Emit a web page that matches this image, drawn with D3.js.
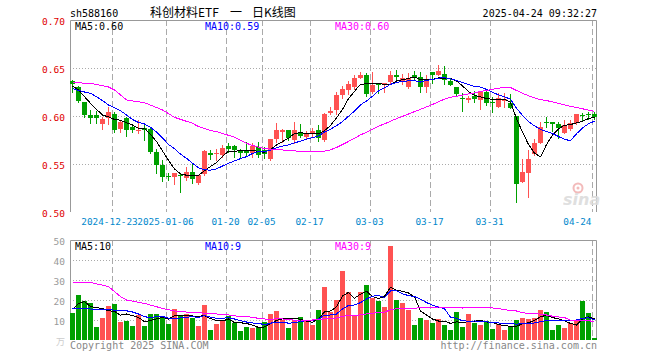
<!DOCTYPE html>
<html>
<head>
<meta charset="utf-8">
<script src="https://cdn.jsdelivr.net/npm/d3@7"></script>
<style>
  body { margin: 0; background: #fff; }
  svg { display: block; }
</style>
</head>
<body>
<div id="chart"></div>
<script>
// trading days shown in the chart
var dates = [
  "2024-12-12","2024-12-13","2024-12-16","2024-12-17","2024-12-18","2024-12-19","2024-12-20","2024-12-23","2024-12-24","2024-12-25",
  "2024-12-26","2024-12-27","2024-12-30","2024-12-31","2025-01-02","2025-01-03","2025-01-06","2025-01-07","2025-01-08","2025-01-09",
  "2025-01-10","2025-01-13","2025-01-14","2025-01-15","2025-01-16","2025-01-17","2025-01-20","2025-01-21","2025-01-22","2025-01-23",
  "2025-01-24","2025-01-27","2025-02-05","2025-02-06","2025-02-07","2025-02-10","2025-02-11","2025-02-12","2025-02-13","2025-02-14",
  "2025-02-17","2025-02-18","2025-02-19","2025-02-20","2025-02-21","2025-02-24","2025-02-25","2025-02-26","2025-02-27","2025-02-28",
  "2025-03-03","2025-03-04","2025-03-05","2025-03-06","2025-03-07","2025-03-10","2025-03-11","2025-03-12","2025-03-13","2025-03-14",
  "2025-03-17","2025-03-18","2025-03-19","2025-03-20","2025-03-21","2025-03-24","2025-03-25","2025-03-26","2025-03-27","2025-03-28",
  "2025-03-31","2025-04-01","2025-04-02","2025-04-03","2025-04-07","2025-04-08","2025-04-09","2025-04-10","2025-04-11","2025-04-14",
  "2025-04-15","2025-04-16","2025-04-17","2025-04-18","2025-04-21","2025-04-22","2025-04-23","2025-04-24"
];

var open = [
  .6365,.6305,.6149,.6010,.6010,.5914,.5976,.6021,.5865,.5983,
  .5882,.5851,.5875,.5865,.5628,.5490,.5379,.5368,.5389,.5351,
  .5413,.5306,.5392,.5618,.5604,.5594,.5688,.5688,.5646,.5639,
  .5611,.5674,.5646,.5552,.5760,.5837,.5854,.5750,.5837,.5785,
  .5813,.5854,.5750,.6028,.6062,.6219,.6271,.6305,.6399,.6427,
  .6253,.6340,.6330,.6351,.6427,.6368,.6305,.6427,.6403,.6305,
  .6455,.6427,.6437,.6365,.6305,.6184,.6167,.6208,.6167,.6253,
  .6149,.6097,.6160,.6139,.6000,.5316,.5403,.5604,.5715,.5941,
  .5934,.5917,.5820,.5861,.5924,.6010,.6021,.6021
];
var high = [
  .6370,.6310,.6150,.6062,.6056,.5993,.6090,.6045,.5958,.5993,
  .5906,.5958,.5920,.5872,.5656,.5542,.5410,.5403,.5403,.5465,
  .5507,.5389,.5646,.5646,.5656,.5698,.5722,.5698,.5653,.5733,
  .5715,.5733,.5674,.5760,.5931,.5865,.5854,.5941,.5920,.5844,
  .5872,.5906,.6028,.6097,.6253,.6313,.6368,.6427,.6462,.6444,
  .6462,.6340,.6345,.6469,.6479,.6437,.6451,.6472,.6462,.6427,
  .6455,.6531,.6521,.6392,.6305,.6236,.6208,.6264,.6253,.6278,
  .6201,.6243,.6236,.6229,.6000,.5549,.5646,.5757,.5941,.5993,
  .5934,.5941,.5958,.5958,.6021,.6035,.6045,.6045
];
var low = [
  .6253,.6150,.5986,.5930,.5927,.5865,.5917,.5830,.5837,.5792,
  .5837,.5826,.5750,.5611,.5410,.5326,.5333,.5292,.5212,.5333,
  .5306,.5292,.5385,.5549,.5542,.5569,.5628,.5576,.5559,.5597,
  .5576,.5576,.5563,.5542,.5733,.5733,.5750,.5722,.5778,.5760,
  .5795,.5743,.5743,.6021,.6021,.6184,.6233,.6278,.6399,.6208,
  .6236,.6236,.6253,.6333,.6375,.6333,.6288,.6375,.6253,.6253,
  .6347,.6427,.6333,.6323,.6208,.6055,.6149,.6149,.6069,.6115,
  .6045,.6090,.6097,.6080,.5108,.5316,.5153,.5597,.5715,.5889,
  .5847,.5771,.5820,.5854,.5917,.5951,.5965,.5965
];
var close = [
  .6333,.6159,.6010,.5976,.5983,.5969,.6038,.5854,.5934,.5854,
  .5854,.5854,.5851,.5628,.5490,.5361,.5361,.5403,.5375,.5413,
  .5340,.5385,.5639,.5597,.5611,.5663,.5653,.5646,.5611,.5611,
  .5688,.5594,.5601,.5760,.5854,.5854,.5774,.5854,.5792,.5813,
  .5847,.5767,.6017,.6055,.6219,.6281,.6333,.6399,.6427,.6229,
  .6323,.6323,.6340,.6427,.6410,.6392,.6392,.6403,.6305,.6382,
  .6427,.6469,.6375,.6323,.6226,.6174,.6184,.6177,.6253,.6132,
  .6132,.6184,.6174,.6087,.5292,.5417,.5549,.5722,.5889,.5934,
  .5913,.5872,.5906,.5930,.6021,.6000,.6010,.5986
];

// price moving averages (null = not read)
var ma5 = [
  .6313,.6271,.6201,.6132,.6070,.6010,.5990,.5964,.5956,.5930,
  .5907,.5870,.5869,.5808,.5735,.5637,.5538,.5449,.5398,.5383,
  .5378,.5383,.5430,.5475,.5514,.5579,.5633,.5634,.5637,.5637,
  .5642,.5630,.5621,.5651,.5699,.5733,.5769,.5819,.5826,.5817,
  .5816,.5815,.5847,.5900,.5981,.6068,.6181,.6257,.6332,.6334,
  .6342,.6340,.6328,.6328,.6365,.6378,.6392,.6405,.6380,.6375,
  .6382,.6397,.6392,.6395,.6364,.6314,.6254,.6214,.6200,.6181,
  .6174,.6176,.6176,.6142,.5974,.5831,.5704,.5613,.5574,.5702,
  .5801,.5866,.5903,.5911,.5928,.5946,.5973,.5989
];
var ma10 = [
  .6285,.6266,.6250,.6236,.6200,.6160,.6115,.6085,.6055,.6011,
  .5963,.5933,.5917,.5882,.5833,.5772,.5704,.5659,.5603,.5559,
  .5508,.5461,.5440,.5436,.5449,.5479,.5508,.5532,.5556,.5576,
  .5610,.5631,.5628,.5644,.5668,.5687,.5699,.5720,.5738,.5758,
  .5774,.5792,.5833,.5863,.5899,.5942,.5998,.6052,.6116,.6157,
  .6205,.6261,.6293,.6330,.6349,.6360,.6366,.6367,.6354,.6370,
  .6380,.6395,.6398,.6388,.6369,.6348,.6329,.6307,.6302,.6277,
  .6248,.6219,.6199,.6176,.6082,.6007,.5943,.5897,.5860,.5840,
  .5818,.5786,.5758,.5742,.5815,.5874,.5920,.5946
];
var ma30 = [
  .6347,null,null,.6341,null,null,.6302,.6271,null,.6167,
  null,null,.6139,null,null,.6063,null,.5986,null,null,
  .5924,.5890,null,.5850,.5837,null,null,.5780,null,.5715,
  .5694,.5675,.5661,.5654,.5650,.5646,.5637,.5637,.5632,.5631,
  .5631,.5628,.5633,.5648,.5672,.5703,.5735,.5768,.5803,.5830,
  .5863,.5895,.5918,.5946,.5972,.5996,.6021,.6046,.6069,.6095,
  .6120,.6149,.6175,.6194,.6206,.6217,.6230,.6241,.6256,.6267,
  .6277,.6290,.6296,.6297,.6266,.6237,.6211,.6188,.6170,.6161,
  .6147,.6132,.6117,.6101,.6088,.6075,.6062,.6048
];

// volume, in 万
var volume = [
  13.7,22.5,19.5,18.7,6.7,11.2,17,18,9.2,9.7,
  7,12.5,7,13,13,11.7,8,15.5,12.5,13,
  11.2,7,17.5,5,8,10,12,8.3,4.7,6.3,
  5.8,6.3,9.2,13,14.7,10,6,10,11.5,9.5,
  7.5,15,26.5,14,20,34.5,24,12,24,27.5,
  21.2,19.5,16.7,47,20,18.7,15,7.5,11.2,10,
  8.7,10.3,7.5,5,14.2,6.3,13,8.3,7.5,9.7,
  5.3,8,5,6.3,10,11.2,10.5,11.2,15,14.2,
  5,7.5,6.2,8.7,10,19.5,13.7,1.2
];
var volMa5 = [
  15.3,18.3,19.2,16.7,16.2,15.7,14.6,14.3,12.4,13.0,
  12.2,11.3,9.1,9.8,10.5,11.4,10.5,12.2,12.1,12.1,
  12.0,11.8,12.2,10.7,9.7,9.5,10.5,8.7,8.6,8.3,
  7.4,6.3,6.5,8.1,9.8,10.6,10.6,10.7,10.4,9.4,
  8.9,10.7,14.0,14.5,16.6,22.0,23.8,20.9,22.9,24.4,
  21.7,20.8,21.8,26.4,24.9,24.4,23.5,21.6,14.5,12.5,
  10.5,9.5,9.5,8.3,9.1,8.7,9.2,9.4,9.9,9.0,
  8.8,7.8,7.1,6.9,6.9,8.1,8.6,9.8,11.6,12.4,
  11.2,10.6,9.6,8.3,7.5,10.4,11.6,10.6
];
var volMa10 = [
  15.8,null,null,15.5,null,null,15.3,null,14.5,14.6,
  14.0,13.0,11.7,11.1,11.8,11.8,10.9,10.7,11.0,11.3,
  11.7,11.2,12.2,11.4,10.9,10.8,11.2,10.5,9.7,9.0,
  8.5,8.4,7.6,8.4,9.0,9.0,8.4,8.6,9.3,9.6,
  9.8,10.6,12.4,12.5,13.0,15.5,17.3,17.5,18.7,20.5,
  21.9,22.3,21.3,24.6,24.6,23.1,22.2,21.7,20.4,18.7,
  17.4,16.5,15.6,11.4,10.8,9.6,9.4,9.5,9.1,9.1,
  8.7,8.5,8.2,8.4,7.9,8.4,8.2,8.5,9.2,9.7,
  9.6,9.6,9.7,10.0,10.0,10.8,11.1,10.1
];
var volMa30 = [
  28.8,null,null,28.8,null,null,26.7,null,21.7,20.0,
  null,null,18.3,null,null,15.8,null,14.5,null,null,
  13.7,null,null,13.3,null,null,12.5,null,11.7,11.6,
  11.4,10.8,10.5,10.3,10.6,10.5,10.2,9.9,10.0,10.0,
  10.0,10.1,10.7,10.8,11.0,11.8,12.3,12.2,12.6,13.0,
  13.4,13.8,13.8,15.2,15.6,15.8,15.9,15.9,16.1,16.3,
  16.4,16.5,16.4,16.2,16.2,16.0,16.3,16.2,16.1,16.1,
  16.0,15.8,15.1,14.8,14.5,13.7,13.2,13.2,12.9,12.5,
  11.9,11.5,11.2,9.9,9.6,9.6,9.6,9.3
];

var tickLabels = ["2024-12-23","2025-01-06","01-20","02-05","02-17","03-03","03-17","03-31","04-24"];
var priceTicks = [0.70, 0.65, 0.60, 0.55, 0.50];
var volTicks = [50, 40, 30, 20, 10, 0];
var legendMain = ["MA5:0.60", "MA10:0.59", "MA30:0.60"];
var legendVol = ["MA5:10", "MA10:9", "MA30:9"];

drawKChart();

function drawKChart() {
    var mono = "'DejaVu Sans Mono', 'Liberation Mono', monospace";
    var n = dates.length;
    var L = 70, R = 597, T = 20, B = 212, VT = 240, VB = 340;
    var RED = "#ff5252", GREEN = "#00a000";
    var maColors = ["#000000", "#0000ff", "#ff00ff"];

    var svg = d3.select("#chart").append("svg").attr("width", 660).attr("height", 360)
        .style("background", "#ffffff");

    var x = d3.scaleBand().domain(d3.range(n)).range([L, R]).paddingInner(1/6);
    var y = d3.scaleLinear().domain([0.5, 0.7]).range([B, T]);
    var yv = d3.scaleLinear().domain([0, 50]).range([VB, VT]);
    var bw = x.bandwidth();

    var tickIdx = tickLabels.map(function (t) {
        return dates.findIndex(function (d) { return d.endsWith(t); });
    });

    // grid: dotted horizontals
    svg.append("g").selectAll("line").data(priceTicks.slice(1, 4)).join("line")
        .attr("x1", L).attr("x2", R)
        .attr("y1", function (d) { return Math.round(y(d)) + 0.5; })
        .attr("y2", function (d) { return Math.round(y(d)) + 0.5; })
        .attr("stroke", "#aaaaaa").attr("stroke-dasharray", "1,2");
    svg.append("g").selectAll("line").data(volTicks.slice(1, 5)).join("line")
        .attr("x1", L).attr("x2", R)
        .attr("y1", function (d) { return Math.round(yv(d)) + 0.5; })
        .attr("y2", function (d) { return Math.round(yv(d)) + 0.5; })
        .attr("stroke", "#aaaaaa").attr("stroke-dasharray", "1,2");

    // grid: dashed verticals at date ticks
    [[T, B], [VT, VB]].forEach(function (span) {
        svg.append("g").selectAll("line").data(tickIdx).join("line")
            .attr("x1", function (i) { return x(i) + 0.5; })
            .attr("x2", function (i) { return x(i) + 0.5; })
            .attr("y1", span[0]).attr("y2", span[1])
            .attr("stroke", "#aaaaaa").attr("stroke-dasharray", "6,3");
    });

    // panel frames (no bottom edge)
    svg.append("path").attr("d", "M" + (L + 0.5) + "," + B + "V" + (T + 0.5) + "H" + (R - 0.5) + "V" + B)
        .attr("fill", "none").attr("stroke", "#999999");
    svg.append("path").attr("d", "M" + (L + 0.5) + "," + VB + "V" + (VT + 0.5) + "H" + (R - 0.5) + "V" + VB)
        .attr("fill", "none").attr("stroke", "#999999");

    // watermark
    var wm = svg.append("g").attr("opacity", 0.9);
    wm.append("circle").attr("cx", 578).attr("cy", 188).attr("r", 4.5)
        .attr("fill", "none").attr("stroke", "#f2b4b4").attr("stroke-width", 2);
    wm.append("circle").attr("cx", 578).attr("cy", 188).attr("r", 1.5).attr("fill", "#f2b4b4");
    wm.append("text").attr("x", 563).attr("y", 205).attr("font-family", "'DejaVu Sans', sans-serif")
        .attr("font-size", 16).attr("font-style", "italic").attr("font-weight", "bold")
        .attr("fill", "#dcdcdc").text("sina");

    var days = d3.range(n);
    function getColor(i) {
        return close[i] >= open[i] ? RED : GREEN;
    }

    // candles
    var cg = svg.append("g").attr("shape-rendering", "crispEdges");
    cg.selectAll("line").data(days).join("line")
        .attr("x1", function (i) { return x(i) + 2.5; })
        .attr("x2", function (i) { return x(i) + 2.5; })
        .attr("y1", function (i) { return Math.round(y(high[i])); })
        .attr("y2", function (i) { return Math.round(y(low[i])) + 1; })
        .attr("stroke", getColor);
    cg.selectAll("rect").data(days).join("rect")
        .attr("x", function (i) { return x(i); })
        .attr("width", bw)
        .attr("y", function (i) { return Math.round(y(Math.max(open[i], close[i]))); })
        .attr("height", function (i) {
            return Math.max(1, Math.round(y(Math.min(open[i], close[i]))) - Math.round(y(Math.max(open[i], close[i]))));
        })
        .attr("fill", getColor);

    // volume bars
    svg.append("g").attr("shape-rendering", "crispEdges")
        .selectAll("rect").data(days).join("rect")
        .attr("x", function (i) { return x(i); })
        .attr("width", bw)
        .attr("y", function (i) { return Math.round(yv(volume[i])); })
        .attr("height", function (i) { return VB - Math.round(yv(volume[i])); })
        .attr("fill", getColor);

    // moving average lines, drawn aliased like the original
    function drawLine(values, scale, color) {
        var pts = values.map(function (v, i) { return [i, v]; })
            .filter(function (d) { return d[1] != null; });
        svg.append("path").datum(pts)
            .attr("fill", "none").attr("stroke", color).attr("stroke-width", 1)
            .attr("shape-rendering", "crispEdges")
            .attr("d", d3.line()
                .x(function (d) { return x(d[0]) + bw / 2; })
                .y(function (d) { return scale(d[1]); }));
    }
    [ma5, ma10, ma30].forEach(function (s, k) { drawLine(s, y, maColors[k]); });
    [volMa5, volMa10, volMa30].forEach(function (s, k) { drawLine(s, yv, maColors[k]); });

    // price axis labels
    var ay = svg.append("g").attr("transform", "translate(" + L + ",0)")
        .call(d3.axisLeft(y).tickValues(priceTicks).tickFormat(d3.format(".2f")).tickSize(0).tickPadding(5))
        .attr("font-family", mono).attr("font-size", 9.5);
    ay.select(".domain").remove();
    ay.selectAll("text").attr("fill", "#e00000").attr("dy", "0.45em");

    // volume axis labels
    var av = svg.append("g").attr("transform", "translate(" + L + ",0)")
        .call(d3.axisLeft(yv).tickValues(volTicks).tickSize(0).tickPadding(5)
            .tickFormat(function (d) { return d === 0 ? "万" : d; }))
        .attr("font-family", mono).attr("font-size", 9.5);
    av.select(".domain").remove();
    av.selectAll("text").attr("fill", "#9a9a9a").attr("dy", "0.45em");
    av.selectAll("text").filter(function (d) { return d === 0; })
        .attr("fill", "#cccccc").attr("font-family", "'Noto Sans CJK SC', sans-serif").attr("font-size", 9);

    // date axis labels
    var ax = svg.append("g").attr("transform", "translate(" + (-bw / 2 - 0.5) + "," + B + ")")
        .call(d3.axisBottom(x).tickValues(tickIdx).tickSize(0).tickPadding(6)
            .tickFormat(function (i) { return tickLabels[tickIdx.indexOf(i)]; }))
        .attr("font-family", mono).attr("font-size", 9.4);
    ax.select(".domain").remove();
    ax.selectAll("text").attr("fill", "#0088cc");
    ax.selectAll("text").filter(function (i) { return i === tickIdx[0]; }).attr("dx", -2);
    ax.selectAll("text").filter(function (i) { return i === n - 1; }).attr("text-anchor", "end");

    // header
    svg.append("text").attr("x", L).attr("y", 16.5).attr("font-family", mono).attr("font-size", 10)
        .attr("fill", "#000").text("sh588160");
    var title = svg.append("text").attr("y", 17).attr("font-family", "'Noto Sans CJK SC', sans-serif")
        .attr("font-size", 12).attr("fill", "#000");
    title.append("tspan").attr("x", 150).text("科创材料ETF");
    title.append("tspan").attr("x", 230).text("一");
    title.append("tspan").attr("x", 252).text("日K线图");
    svg.append("text").attr("x", R).attr("y", 16.5).attr("text-anchor", "end")
        .attr("font-family", mono).attr("font-size", 10).attr("fill", "#000")
        .text("2025-04-24 09:32:27");

    // legends
    var legX = [75, 205, 335];
    legendMain.forEach(function (t, k) {
        svg.append("text").attr("x", legX[k]).attr("y", 30).attr("font-family", mono)
            .attr("font-size", 10).attr("fill", maColors[k]).text(t);
    });
    legendVol.forEach(function (t, k) {
        svg.append("text").attr("x", legX[k]).attr("y", 250).attr("font-family", mono)
            .attr("font-size", 10).attr("fill", maColors[k]).text(t);
    });

    // footer
    svg.append("text").attr("x", L).attr("y", 349).attr("font-family", mono).attr("font-size", 10)
        .attr("fill", "#888888").text("Copyright 2025 SINA.COM");
    svg.append("text").attr("x", R).attr("y", 349).attr("text-anchor", "end").attr("font-family", mono)
        .attr("font-size", 10).attr("fill", "#888888").text("http://finance.sina.com.cn");
}
</script>
</body>
</html>
